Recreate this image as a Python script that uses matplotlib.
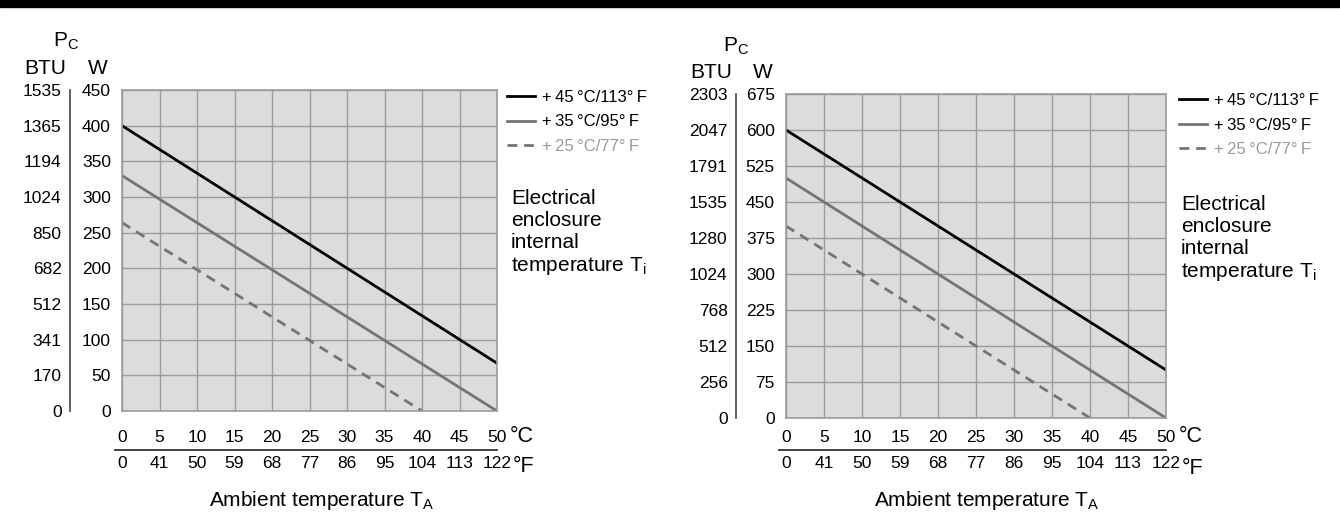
import matplotlib
matplotlib.use('Agg')  # No X
import matplotlib.pyplot as plt
import matplotlib.transforms as mtransforms
from matplotlib.patches import Rectangle
from matplotlib.lines import Line2D

plt.rcParams['font.family'] = ['Liberation Sans', 'DejaVu Sans']

W_PX, H_PX = 1340, 518

# Shared axis data
celsius_ticks = [0, 5, 10, 15, 20, 25, 30, 35, 40, 45, 50]
fahrenheit_labels = ["0", "41", "50", "59", "68", "77", "86", "95", "104", "113", "122"]
series_labels = ["+\u200945\u2009°C/113°\u2009F", "+\u200935\u2009°C/95°\u2009F", "+\u200925\u2009°C/77°\u2009F"]

# Left chart
left_watt_ticks = [0, 50, 100, 150, 200, 250, 300, 350, 400, 450]
left_btu_labels = ["0", "170", "341", "512", "682", "850", "1024", "1194", "1365", "1535"]
left_t45_x = [0, 50]
left_t45_y = [400, 67]
left_t35_x = [0, 50]
left_t35_y = [330, 0]
left_t25_x = [0, 40]
left_t25_y = [264, 0]

# Right chart
right_watt_ticks = [0, 75, 150, 225, 300, 375, 450, 525, 600, 675]
right_btu_labels = ["0", "256", "512", "768", "1024", "1280", "1535", "1791", "2047", "2303"]
right_t45_x = [0, 50]
right_t45_y = [600, 100]
right_t35_x = [0, 50]
right_t35_y = [500, 0]
right_t25_x = [0, 40]
right_t25_y = [400, 0]


def fx(px):
  return px / float(W_PX)


def fy(py):
  return 1.0 - py / float(H_PX)


fig = plt.figure(figsize=(13.4, 5.18), dpi=100)

# black bar at the top
fig.patches.append(Rectangle((0, fy(7)), 1, fy(0) - fy(7), transform=fig.transFigure,
                             color='black', zorder=0))

GRID = '#9c9c9c'
LINE_GRAY = '#747474'


def draw_chart(box, btu_x, watt_ticks, btu_labels, series, lay):
  left, top, right, bottom = box
  ax = fig.add_axes([fx(left), fy(bottom), fx(right) - fx(left), fy(top) - fy(bottom)])
  ymax = watt_ticks[-1]
  ax.set_xlim(0, 50)
  ax.set_ylim(0, ymax)
  ax.set_facecolor('#dcdcdc')
  ax.set_xticks(celsius_ticks)
  ax.set_yticks(watt_ticks)
  ax.grid(True, color=GRID, lw=1.0)
  ax.set_axisbelow(True)
  for s in ax.spines.values():
    s.set_color(GRID)
    s.set_linewidth(1.2)
  ax.tick_params(axis='y', length=0, pad=lay['ypad'], labelsize=12.5)
  ax.tick_params(axis='x', length=0, pad=lay['xpad'], labelsize=12.5)

  (x45, y45), (x35, y35), (x25, y25) = series
  ax.plot(x45, y45, color='black', lw=2.0, label=series_labels[0])
  ax.plot(x35, y35, color=LINE_GRAY, lw=2.0, label=series_labels[1])
  ax.plot(x25, y25, color=LINE_GRAY, lw=2.0, ls=(0, (3.5, 2.5)), label=series_labels[2])

  # BTU scale on its own axis
  bax = fig.add_axes([fx(btu_x), fy(bottom), 0.001, fy(top) - fy(bottom)])
  bax.set_ylim(0, ymax)
  bax.set_yticks(watt_ticks)
  bax.set_yticklabels(btu_labels)
  bax.set_xticks([])
  bax.patch.set_visible(False)
  for k in ['top', 'right', 'bottom']:
    bax.spines[k].set_visible(False)
  bax.spines['left'].set_color('#555555')
  bax.spines['left'].set_linewidth(1.3)
  bax.tick_params(axis='y', length=0, pad=6, labelsize=12.5)

  # Fahrenheit scale
  trans = mtransforms.blended_transform_factory(ax.transData, fig.transFigure)
  for c, f in zip(celsius_ticks, fahrenheit_labels):
    ax.text(c, fy(lay['f_y']), f, transform=trans, ha='center', va='center', fontsize=12.5)
  fig.add_artist(Line2D([fx(left - 7), fx(right)], [fy(lay['line_y'])] * 2,
                        color='#333333', lw=1.3, transform=fig.transFigure))
  fig.text(fx(lay['unit_x']), fy(lay['c_y']), "°C", fontsize=15.5, va='center', ha='left')
  fig.text(fx(lay['unit_x'] + 3), fy(lay['f_unit_y']), "°F", fontsize=15.5, va='center', ha='left')

  fig.text(fx(lay['ambient_x']), fy(lay['ambient_y']), "Ambient temperature T$_\\mathregular{A}$",
           fontsize=15, ha='center', va='center')

  # axis titles
  fig.text(fx(lay['pc_x']), fy(lay['pc_y']), "P$_\\mathregular{C}$", fontsize=15, ha='center', va='center')
  fig.text(fx(lay['btu_x']), fy(lay['unit_row_y']), "BTU", fontsize=15, ha='center', va='center')
  fig.text(fx(lay['w_x']), fy(lay['unit_row_y']), "W", fontsize=15, ha='center', va='center')

  leg = ax.legend(loc='upper left', bbox_to_anchor=(fx(lay['leg_x']), fy(lay['leg_y'])),
                  bbox_transform=fig.transFigure, frameon=False, fontsize=12,
                  handlelength=1.7, handletextpad=0.4, labelspacing=0.57,
                  borderpad=0, borderaxespad=0)
  leg.get_texts()[2].set_color('#999999')

  fig.text(fx(lay['note_x']), fy(lay['note_y']),
           "Electrical\nenclosure\ninternal\ntemperature T$_\\mathregular{i}$",
           fontsize=15, ha='left', va='top', linespacing=1.2)
  return ax


draw_chart((122, 90, 497, 411), 70, left_watt_ticks, left_btu_labels,
           [(left_t45_x, left_t45_y), (left_t35_x, left_t35_y), (left_t25_x, left_t25_y)],
           dict(ypad=8, xpad=14, f_y=463, line_y=450, unit_x=510, c_y=436, f_unit_y=467,
                ambient_x=322, ambient_y=501, pc_x=66, pc_y=41, btu_x=45, w_x=98,
                unit_row_y=68, leg_x=507, leg_y=90, note_x=511, note_y=189))

draw_chart((786, 94, 1166, 418), 736, right_watt_ticks, right_btu_labels,
           [(right_t45_x, right_t45_y), (right_t35_x, right_t35_y), (right_t25_x, right_t25_y)],
           dict(ypad=8, xpad=9, f_y=464, line_y=450, unit_x=1179, c_y=436, f_unit_y=468,
                ambient_x=987, ambient_y=501, pc_x=736, pc_y=46, btu_x=711, w_x=763,
                unit_row_y=73, leg_x=1179, leg_y=93, note_x=1181, note_y=195))

fig.savefig("out.png", dpi=100)
plt.close(fig)
